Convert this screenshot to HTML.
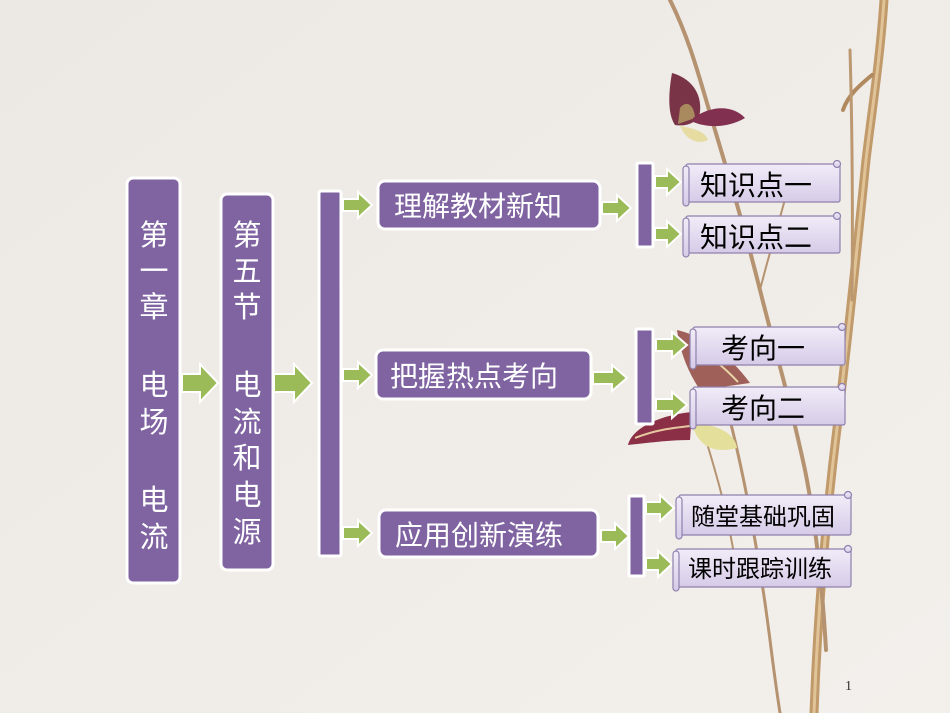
<!DOCTYPE html>
<html><head><meta charset="utf-8"><style>
html,body{margin:0;padding:0;background:#efebe7;}
svg{display:block}
text{font-family:"Liberation Sans","Noto Sans CJK SC",sans-serif;}
</style></head><body>
<svg width="950" height="713" viewBox="0 0 950 713" xmlns="http://www.w3.org/2000/svg">
<defs>
<linearGradient id="bg" x1="0" y1="0" x2="1" y2="1"><stop offset="0" stop-color="#ece8e4"/><stop offset="1" stop-color="#f3f0ec"/></linearGradient>
<linearGradient id="sc" x1="0" y1="0" x2="0" y2="1"><stop offset="0" stop-color="#f1ecf8"/><stop offset="1" stop-color="#d6cbe8"/></linearGradient>
</defs>
<rect width="950" height="713" fill="url(#bg)"/>
<!-- branches -->
<g fill="none" stroke-linecap="round">
<path d="M884,0 C880,60 872,110 866,160 C858,240 850,320 838,420 C828,500 818,600 814,713" stroke="#c09a6a" stroke-width="9"/>
<path d="M884,0 C880,60 872,110 866,160 C858,240 850,320 838,420 C828,500 818,600 814,713" stroke="#e0c498" stroke-width="3"/>
<path d="M872,75 C860,85 848,95 843,110" stroke="#b08a5e" stroke-width="4"/>
<path d="M670,0 C690,40 700,80 712,120 C730,180 745,230 760,290 C775,350 790,400 805,470 C815,520 822,580 826,650" stroke="#b59270" stroke-width="4"/>
<path d="M850,50 C852,120 853,200 852,300" stroke="#bb9870" stroke-width="3"/>
<path d="M760,290 C770,250 780,220 790,180" stroke="#b59270" stroke-width="2"/>
<path d="M730,420 C745,480 760,560 770,640 C775,680 778,700 780,713" stroke="#b59270" stroke-width="3"/>
<path d="M700,420 C715,470 725,500 735,560" stroke="#b59270" stroke-width="2"/>
</g>
<!-- butterfly top -->
<path d="M672,73 C690,78 702,92 700,112 C698,122 688,127 675,125 C668,115 668,95 672,73Z" fill="#7a3448"/>
<path d="M680,108 C686,100 694,104 695,118 L678,124Z" fill="#a88a5e"/>
<path d="M693,118 C710,106 732,104 745,118 C728,128 708,128 693,122Z" fill="#823050"/>
<path d="M680,126 C690,128 705,130 708,140 C698,145 686,140 680,126Z" fill="#e6dca2"/>
<!-- butterfly bottom -->
<path d="M677,330 C700,335 730,355 750,383 L700,390 C688,372 680,352 677,330Z" fill="#a0605a"/>
<path d="M690,345 C710,355 725,368 738,382" stroke="#e8d6a8" stroke-width="2" fill="none"/>
<path d="M628,445 C632,428 660,415 692,412 L690,440 C668,440 648,443 628,445Z" fill="#8a2f46"/>
<path d="M635,438 C655,430 672,428 690,426" stroke="#e6c8a0" stroke-width="2" fill="none"/>
<path d="M692,425 C712,422 735,432 737,448 C718,453 700,450 692,425Z" fill="#e4e09c"/>

<!-- purple nodes -->
<g fill="#7f64a1" stroke="#fff" stroke-width="3">
<rect x="127" y="178" width="53" height="405" rx="6"/>
<rect x="221" y="194" width="52" height="376" rx="6"/>
<rect x="319" y="191" width="22" height="365" rx="2"/>
<rect x="378" y="181" width="222" height="48" rx="7"/>
<rect x="376" y="350" width="215" height="49" rx="7"/>
<rect x="379" y="510" width="219" height="47" rx="7"/>
<rect x="637" y="163" width="16" height="84" rx="1"/>
<rect x="636" y="329" width="17" height="95" rx="1"/>
<rect x="629" y="496" width="15" height="80" rx="1"/>
</g>
<g fill="#fff" font-size="29" text-anchor="middle">
<text x="154" y="245">第</text><text x="154" y="281">一</text><text x="154" y="317">章</text>
<text x="154" y="395">电</text><text x="154" y="432">场</text>
<text x="154" y="510">电</text><text x="154" y="547">流</text>
<text x="247" y="245">第</text><text x="247" y="281">五</text><text x="247" y="317">节</text>
<text x="247" y="395">电</text><text x="247" y="432">流</text><text x="247" y="468">和</text><text x="247" y="505">电</text><text x="247" y="542">源</text>
</g>
<g fill="#fff" font-size="28">
<text x="394" y="216">理解教材新知</text>
<text x="390" y="386">把握热点考向</text>
<text x="395" y="545">应用创新演练</text>
</g>

<!-- arrows -->
<g fill="#9bbb59" stroke="#fff" stroke-width="2" stroke-linejoin="miter">
<path d="M182,374 L200,374 L200,364 L218,383 L200,402 L200,392 L182,392Z"/>
<path d="M274,374 L294,374 L294,364 L312,383 L294,402 L294,392 L274,392Z"/>
<path d="M343,199 L358,199 L358,192 L372,205 L358,218 L358,211 L343,211Z"/>
<path d="M343,369 L358,369 L358,362 L372,375 L358,388 L358,381 L343,381Z"/>
<path d="M343,527 L358,527 L358,520 L372,533 L358,546 L358,539 L343,539Z"/>
<path d="M602,202 L617,202 L617,195 L631,208 L617,221 L617,214 L602,214Z"/>
<path d="M593,372 L612,372 L612,365 L627,378 L612,391 L612,384 L593,384Z"/>
<path d="M601,530 L615,530 L615,523 L629,536 L615,549 L615,542 L601,542Z"/>
<path d="M655,176 L667,176 L667,169 L681,182 L667,195 L667,188 L655,188Z"/>
<path d="M655,228 L667,228 L667,221 L681,234 L667,247 L667,240 L655,240Z"/>
<path d="M656,339 L672,339 L672,332 L687,345 L672,358 L672,351 L656,351Z"/>
<path d="M656,399 L672,399 L672,392 L687,405 L672,418 L672,411 L656,411Z"/>
<path d="M646,502 L660,502 L660,495 L674,508 L660,521 L660,514 L646,514Z"/>
<path d="M646,558 L658,558 L658,551 L672,564 L658,577 L658,570 L646,570Z"/>
</g>

<!-- scrolls -->
<g stroke="#8f80ad" stroke-width="1.2" fill="url(#sc)">
<rect x="686" y="164" width="154" height="38" rx="2"/><rect x="683" y="166" width="6" height="40" rx="3"/><circle cx="837" cy="164" r="3.5"/>
<rect x="686" y="216" width="154" height="37" rx="2"/><rect x="683" y="218" width="6" height="39" rx="3"/><circle cx="837" cy="216" r="3.5"/>
<rect x="693" y="327" width="152" height="38" rx="2"/><rect x="690" y="329" width="6" height="40" rx="3"/><circle cx="842" cy="327" r="3.5"/>
<rect x="693" y="387" width="152" height="38" rx="2"/><rect x="690" y="389" width="6" height="40" rx="3"/><circle cx="842" cy="387" r="3.5"/>
<rect x="679" y="495" width="172" height="40" rx="2"/><rect x="676" y="497" width="6" height="42" rx="3"/><circle cx="848" cy="495" r="3.5"/>
<rect x="676" y="549" width="175" height="38" rx="2"/><rect x="673" y="551" width="6" height="40" rx="3"/><circle cx="848" cy="549" r="3.5"/>
</g>
<g fill="#000" font-size="28">
<text x="700" y="195">知识点一</text>
<text x="700" y="247">知识点二</text>
<text x="721" y="358">考向一</text>
<text x="721" y="418">考向二</text>
</g>
<g fill="#000" font-size="24">
<text x="691" y="525">随堂基础巩固</text>
<text x="688" y="577">课时跟踪训练</text>
</g>
<text x="845" y="690" font-size="14" fill="#333" style="font-family:'Liberation Serif',serif">1</text>
</svg>
</body></html>
